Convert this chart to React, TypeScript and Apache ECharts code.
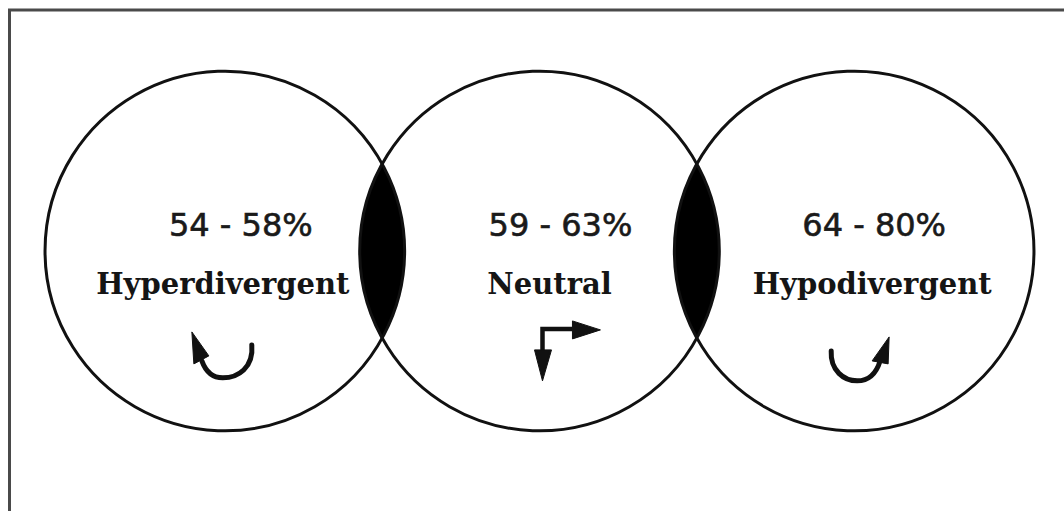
import React, { useEffect, useRef } from "react";
import * as echarts from "echarts";

// Facial-type categories and their ranges (ratio ranges shown in each circle)
const categories = ["Hyperdivergent", "Neutral", "Hypodivergent"];
const ranges = ["54 - 58%", "59 - 63%", "64 - 80%"];
// position of each circle along the axis (index order) and the pairs that overlap
const circleSlots = [0, 1, 2];
const overlaps = [
  [0, 1],
  [1, 2],
];

const INK = "#111";

function circleItem(params: any, api: any) {
  const idx = params.dataIndex;
  const c = api.coord([api.value(0), api.value(1)]);
  const unit = api.size([1, 0])[0];
  const s = unit / 315;
  const r = 180 * s;
  const cx = c[0];
  const cy = c[1];
  const pctShift = [16, 21, 20][idx];
  const nameShift = [-2, 10, 18][idx];
  const P = (dx: number, dy: number) => [cx + dx * s, cy + dy * s];
  const children: any[] = [
    {
      type: "circle",
      shape: { cx, cy, r },
      style: { fill: "none", stroke: INK, lineWidth: 3 },
    },
    {
      type: "text",
      style: {
        text: ranges[idx],
        x: cx + pctShift * s,
        y: cy - 26 * s,
        textAlign: "center",
        textVerticalAlign: "middle",
        align: "center",
        verticalAlign: "middle",
        font: `${Math.round(32 * s)}px 'DejaVu Sans'`,
        fill: "#1a1a1a",
        stroke: "#1a1a1a",
        lineWidth: 0.6,
      },
    },
    {
      type: "text",
      style: {
        text: categories[idx],
        x: cx + nameShift * s,
        y: cy + 33 * s,
        textAlign: "center",
        textVerticalAlign: "middle",
        align: "center",
        verticalAlign: "middle",
        font: `bold ${Math.round(29.5 * s)}px 'DejaVu Serif'`,
        fill: "#151515",
      },
    },
  ];
  const line = (pts: number[][]) => ({
    type: "polyline",
    shape: { points: pts },
    style: { fill: "none", stroke: INK, lineWidth: 4.5 * s, lineJoin: "miter" },
  });
  const head = (pts: number[][]) => ({
    type: "polygon",
    shape: { points: pts },
    style: { fill: INK, stroke: INK, lineWidth: 1 },
  });
  const curve = (d: number[][]) => {
    const [a, b1, b2, m, c1, c2, e] = d.map(([x, y]) => P(x, y));
    const pd = `M${a[0]} ${a[1]} C${b1[0]} ${b1[1]} ${b2[0]} ${b2[1]} ${m[0]} ${m[1]} C${c1[0]} ${c1[1]} ${c2[0]} ${c2[1]} ${e[0]} ${e[1]}`;
    return {
      type: "path",
      shape: { pathData: pd },
      style: { fill: "none", stroke: INK, lineWidth: 5 * s, lineCap: "round" },
    };
  };
  if (idx === 0) {
    children.push(
      curve([
        [27, 94],
        [29, 117],
        [13, 127],
        [-2, 127],
        [-12, 127],
        [-19, 121],
        [-23, 110],
      ])
    );
    children.push(head([P(-33, 81), P(-16, 105), P(-31, 113)]));
  } else if (idx === 1) {
    children.push(line([P(61 - 28, 78), P(3, 78), P(3, 100)]));
    children.push(head([P(61, 79), P(33, 70), P(33, 88)]));
    children.push(head([P(3, 130), P(-5, 99), P(12, 99)]));
  } else {
    children.push(
      curve([
        [-23, 100],
        [-24, 120],
        [-10, 130],
        [3, 130],
        [14, 130],
        [22, 123],
        [26, 110],
      ])
    );
    children.push(head([P(35, 86), P(34, 113), P(18, 110)]));
  }
  return { type: "group", children };
}

function lensItem(params: any, api: any) {
  const a = api.coord([api.value(0), api.value(2)]);
  const b = api.coord([api.value(1), api.value(2)]);
  const unit = api.size([1, 0])[0];
  const s = unit / 315;
  const r = 180 * s;
  const d = b[0] - a[0];
  const h = Math.sqrt(Math.max(r * r - (d / 2) * (d / 2), 0));
  const mx = (a[0] + b[0]) / 2;
  const cy = a[1];
  const pd = `M${mx} ${cy - h} A${r} ${r} 0 0 1 ${mx} ${cy + h} A${r} ${r} 0 0 1 ${mx} ${cy - h} Z`;
  return {
    type: "path",
    shape: { pathData: pd },
    style: { fill: "#000", stroke: INK, lineWidth: 1 },
  };
}

export default function App() {
  const ref = useRef<HTMLDivElement>(null);
  useEffect(() => {
    if (!ref.current) return;
    const chart = echarts.init(ref.current, undefined, { renderer: "svg" });
    chart.setOption({
      animation: false,
      backgroundColor: "#fff",
      grid: { left: 67.5, right: 52.5, top: 0, bottom: 9 },
      xAxis: { type: "value", min: -0.5, max: 2.5, show: false },
      yAxis: { type: "value", min: -1, max: 1, show: false },
      graphic: [
        {
          type: "polyline",
          shape: {
            points: [
              [9.5, 520],
              [9.5, 10],
              [1070, 10],
            ],
          },
          style: { fill: "none", stroke: "#4a4a4a", lineWidth: 3 },
          z: 10,
        },
      ],
      series: [
        {
          type: "custom",
          renderItem: lensItem,
          data: overlaps.map(([i, j]) => [circleSlots[i], circleSlots[j], 0]),
          encode: { x: [0, 1], y: 2 },
          silent: true,
          z: 2,
        },
        {
          type: "custom",
          renderItem: circleItem,
          data: circleSlots.map((x) => [x, 0]),
          encode: { x: 0, y: 1 },
          silent: true,
          z: 3,
        },
      ],
    });
    return () => chart.dispose();
  }, []);
  return (
    <div
      ref={ref}
      style={{ position: "absolute", left: 0, top: 0, width: 1064, height: 511 }}
    />
  );
}
